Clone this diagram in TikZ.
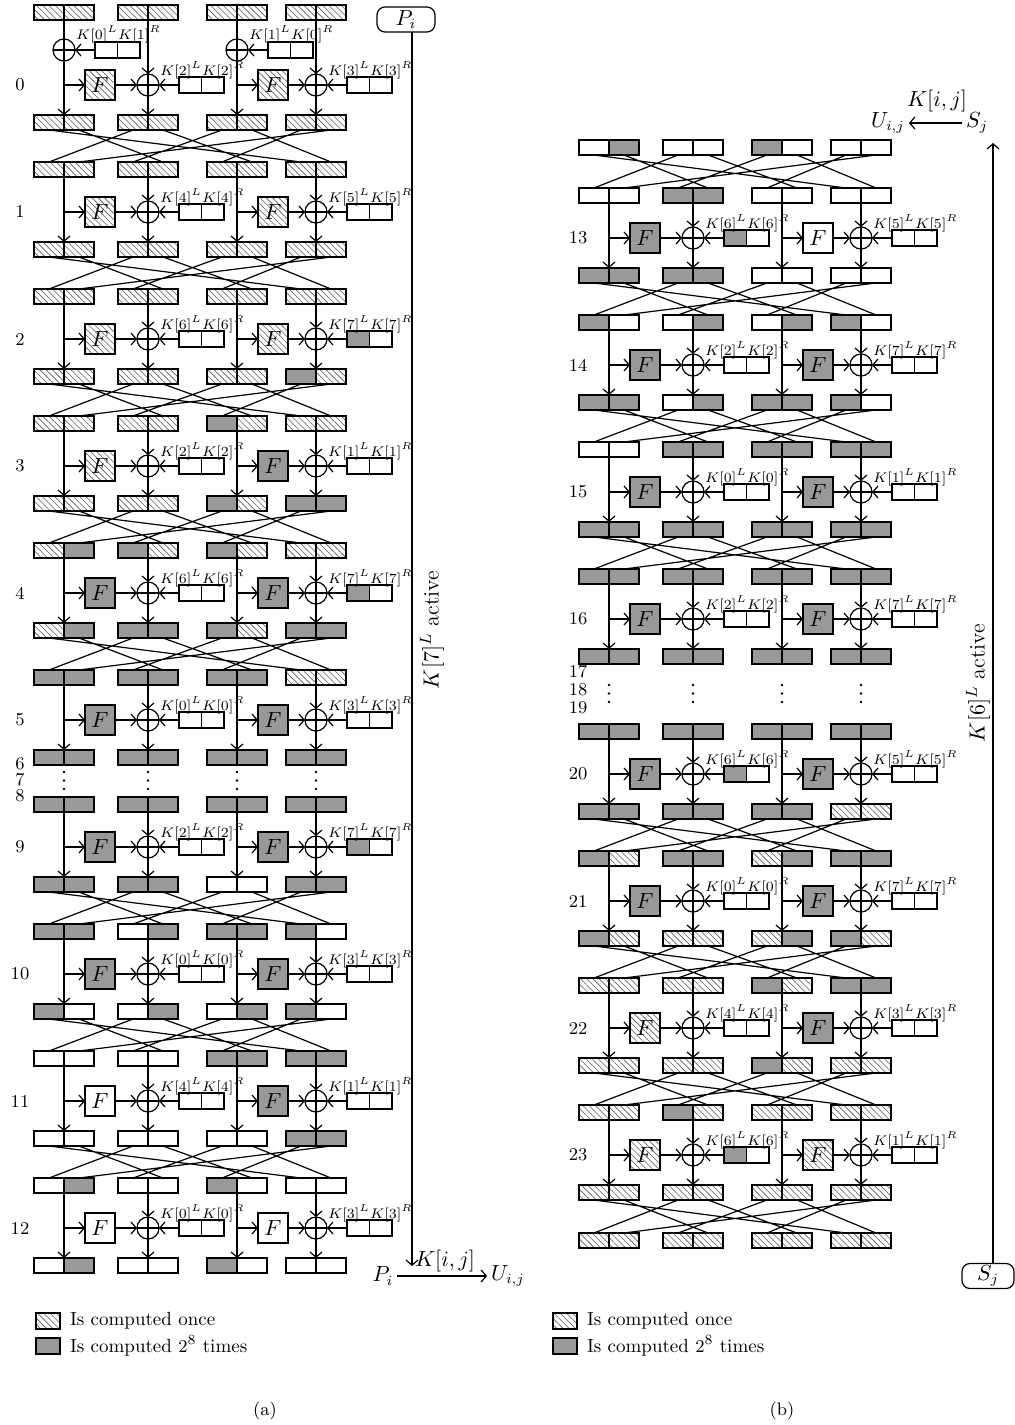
\documentclass[tikz,border=0pt]{standalone}
\usetikzlibrary{arrows.meta,patterns.meta}
\newcommand\brow[4]{%
  \foreach \s [count=\i from 0] in {#4} {%
    \pgfmathtruncatemacro\bk{div(\i,2)}%
    \pgfmathsetmacro\cx{{64,148,237,316}[\bk]+#2+30*mod(\i,2)-15}%
    \node[cellb,\s] (#1\i) at (\cx,#3+7.5) {};
  }}
\newcommand\xperm[2]{%
  \draw[wire] (#12.south)--(#20.north) (#17.south)--(#21.north)
    (#14.south)--(#22.north) (#11.south)--(#23.north)
    (#16.south)--(#24.north) (#13.south)--(#25.north)
    (#10.south)--(#26.north) (#15.south)--(#27.north);}
\newcommand\fpair[9]{%
  \node[fbox,#5] (#1F) at (#2+36,#4) {$F$};
  \node[xorc] (#1X) at (#3,#4) {};
  \node[kcell,#6,anchor=west] (#1KL) at (#3+31,#4) {};
  \node[kcell,#7,anchor=west] (#1KR) at (#1KL.east) {};
  \node[klab,anchor=base west] (#1T) at (#3+12,#4-10) {$#8$};
  \coordinate (#1a) at (#2,#9);
  \coordinate (#1b) at (#2,#4);
  \coordinate (#1c) at (#2,#4+30);
  \coordinate (#1d) at (#3,#9);
  \coordinate (#1e) at (#3,#4+30);
  \draw[arr] (#1a) -- (#1c);
  \draw[arr] (#1b) -- (#1F);
  \draw[arr] (#1F) -- (#1X);
  \draw[arr] (#1d) -- (#1X);
  \draw[arr] (#1X) -- (#1e);
  \draw[arr] (#1KL) -- (#1X);}
\newcommand\vdts[2]{%
  \foreach \c in {64,148,237,316} {%
    \foreach \d in {0,8.5,17} {%
      \fill (\c+#1,#2+\d) circle[radius=0.7pt];}}}
\begin{document}
\begin{tikzpicture}[x=0.5pt,y=-0.5pt,
  every node/.style={inner sep=0pt,outer sep=0pt},
  wire/.style={line width=0.6pt},
  arr/.style={line width=0.6pt,-{Straight Barb[length=2.6pt,width=6pt,line width=0.6pt]}},
  cellb/.style={draw,line width=0.6pt,minimum width=15pt,minimum height=7.5pt},
  hat/.style={pattern={Lines[angle=-45,distance=2.2pt,line width=0.3pt]},pattern color=black!65},
  gry/.style={fill=black!40},
  wht/.style={fill=white},
  fbox/.style={draw,line width=0.6pt,minimum size=15pt,font=\fontsize{11}{11}\selectfont},
  xorc/.style={draw,circle,line width=0.6pt,minimum size=11pt,
    path picture={\draw[line width=0.6pt] (path picture bounding box.north) -- (path picture bounding box.south)
      (path picture bounding box.west) -- (path picture bounding box.east);}},
  kcell/.style={draw,line width=0.6pt,minimum width=11.25pt,minimum height=8pt},
  klab/.style={font=\fontsize{6.6}{7}\selectfont},
  rlab/.style={font=\fontsize{9}{10}\selectfont},
  big/.style={font=\fontsize{10.5}{11}\selectfont},
  leg/.style={draw,line width=0.6pt,minimum width=12pt,minimum height=8pt},
  legt/.style={anchor=west,font=\fontsize{9.5}{10}\selectfont},
]
\useasboundingbox (0,0) rectangle (1015,1425);
% ================= panel (a) =================
% round 0
\brow{A0i}{0}{5}{hat,hat,hat,hat,hat,hat,hat,hat}
\node[xorc] (W1X) at (64,50) {};
\node[kcell,wht,anchor=west] (W1KL) at (95,50) {};
\node[kcell,wht,anchor=west] (W1KR) at (W1KL.east) {};
\node[klab,anchor=base west] (W1T) at (76,39) {$K[0]^L K[1]^R$};
\draw[arr] (W1KL) -- (W1X);
\node[xorc] (W2X) at (237,50) {};
\node[kcell,wht,anchor=west] (W2KL) at (268,50) {};
\node[kcell,wht,anchor=west] (W2KR) at (W2KL.east) {};
\node[klab,anchor=base west] (W2T) at (249,39) {$K[1]^L K[0]^R$};
\draw[arr] (W2KL) -- (W2X);
\fpair{A0l}{64}{148}{85}{hat}{wht}{wht}{K[2]^L K[2]^R}{20}
\fpair{A0r}{237}{316}{85}{hat}{wht}{wht}{K[3]^L K[3]^R}{20}
\brow{A0o}{0}{115}{hat,hat,hat,hat,hat,hat,hat,hat}
% round 1
\brow{A1i}{0}{162}{hat,hat,hat,hat,hat,hat,hat,hat}
\xperm{A0o}{A1i}
\fpair{A1l}{64}{148}{212}{hat}{wht}{wht}{K[4]^L K[4]^R}{177}
\fpair{A1r}{237}{316}{212}{hat}{wht}{wht}{K[5]^L K[5]^R}{177}
\brow{A1o}{0}{242}{hat,hat,hat,hat,hat,hat,hat,hat}
% round 2
\brow{A2i}{0}{289}{hat,hat,hat,hat,hat,hat,hat,hat}
\xperm{A1o}{A2i}
\fpair{A2l}{64}{148}{339}{hat}{wht}{wht}{K[6]^L K[6]^R}{304}
\fpair{A2r}{237}{316}{339}{hat}{gry}{wht}{K[7]^L K[7]^R}{304}
\brow{A2o}{0}{369}{hat,hat,hat,hat,hat,hat,gry,hat}
% round 3
\brow{A3i}{0}{416}{hat,hat,hat,hat,gry,hat,hat,hat}
\xperm{A2o}{A3i}
\fpair{A3l}{64}{148}{466}{hat}{wht}{wht}{K[2]^L K[2]^R}{431}
\fpair{A3r}{237}{316}{466}{gry}{wht}{wht}{K[1]^L K[1]^R}{431}
\brow{A3o}{0}{496}{hat,hat,hat,hat,gry,hat,gry,gry}
% round 4
\brow{A4i}{0}{543}{hat,gry,gry,hat,gry,hat,hat,hat}
\xperm{A3o}{A4i}
\fpair{A4l}{64}{148}{593}{gry}{wht}{wht}{K[6]^L K[6]^R}{558}
\fpair{A4r}{237}{316}{593}{gry}{gry}{wht}{K[7]^L K[7]^R}{558}
\brow{A4o}{0}{623}{hat,gry,gry,gry,gry,hat,gry,gry}
% round 5
\brow{A5i}{0}{670}{gry,gry,gry,gry,gry,gry,hat,hat}
\xperm{A4o}{A5i}
\fpair{A5l}{64}{148}{720}{gry}{wht}{wht}{K[0]^L K[0]^R}{685}
\fpair{A5r}{237}{316}{720}{gry}{wht}{wht}{K[3]^L K[3]^R}{685}
\brow{A5o}{0}{750}{gry,gry,gry,gry,gry,gry,gry,gry}
\vdts{0}{772}
% round 9
\brow{A9i}{0}{797}{gry,gry,gry,gry,gry,gry,gry,gry}
\fpair{A9l}{64}{148}{847}{gry}{wht}{wht}{K[2]^L K[2]^R}{812}
\fpair{A9r}{237}{316}{847}{gry}{gry}{wht}{K[7]^L K[7]^R}{812}
\brow{A9o}{0}{877}{gry,gry,gry,gry,wht,wht,gry,gry}
% round 10
\brow{A10i}{0}{924}{gry,gry,wht,gry,gry,gry,gry,wht}
\xperm{A9o}{A10i}
\fpair{A10l}{64}{148}{974}{gry}{wht}{wht}{K[0]^L K[0]^R}{939}
\fpair{A10r}{237}{316}{974}{gry}{wht}{wht}{K[3]^L K[3]^R}{939}
\brow{A10o}{0}{1004}{gry,wht,wht,gry,wht,gry,gry,wht}
% round 11
\brow{A11i}{0}{1051}{wht,wht,wht,wht,gry,gry,gry,gry}
\xperm{A10o}{A11i}
\fpair{A11l}{64}{148}{1101}{wht}{wht}{wht}{K[4]^L K[4]^R}{1066}
\fpair{A11r}{237}{316}{1101}{gry}{wht}{wht}{K[1]^L K[1]^R}{1066}
\brow{A11o}{0}{1131}{wht,wht,wht,wht,wht,wht,gry,gry}
% round 12
\brow{A12i}{0}{1178}{wht,gry,wht,wht,gry,wht,wht,wht}
\xperm{A11o}{A12i}
\fpair{A12l}{64}{148}{1228}{wht}{wht}{wht}{K[0]^L K[0]^R}{1193}
\fpair{A12r}{237}{316}{1228}{wht}{wht}{wht}{K[3]^L K[3]^R}{1193}
\brow{A12o}{0}{1258}{wht,gry,wht,wht,gry,wht,wht,wht}
% round labels (a)
\foreach \r/\yy in {0/85,1/212,2/339,3/466,4/593,5/720,6/764,7/780,8/796,9/847,10/974,11/1101,12/1228}
  \node[rlab] (la\r) at (20,\yy) {\r};
% right side (a)
\node[draw,line width=0.6pt,rounded corners=4pt,minimum width=29pt,minimum height=12.5pt,big] (Pi) at (406,19.5) {$P_i$};
\coordinate (aEnd) at (412,1266);
\draw[arr] (Pi.south -| aEnd) -- (aEnd);
\node[rotate=90,font=\fontsize{11}{11}\selectfont] (actA) at (432,630) {$K[7]^L$ active};
\node[big,inner sep=2pt] (Pb) at (383,1276) {$P_i$};
\node[big,inner sep=2pt] (Ub) at (508,1276) {$U_{i,j}$};
\draw[arr] (Pb.east) -- (Ub.west);
\node[big] (Kb) at (445,1261) {$K[i, j]$};
% legend (a)
\node[leg,hat] (LA1) at (48,1321) {};
\node[legt] (LA1t) at (LA1.east) [xshift=5pt] {Is computed once};
\node[leg,gry] (LA2) at (48,1346) {};
\node[legt] (LA2t) at (LA2.east) [xshift=5pt] {Is computed $2^8$ times};
\node[rlab] (capA) at (265,1411) {(a)};
% ================= panel (b) =================
\brow{Bt}{545}{140}{wht,gry,wht,wht,gry,wht,wht,wht}
% round 13
\brow{B13i}{545}{188}{wht,wht,gry,gry,wht,wht,wht,wht}
\xperm{Bt}{B13i}
\fpair{B13l}{609}{693}{238}{gry}{gry}{wht}{K[6]^L K[6]^R}{203}
\fpair{B13r}{782}{861}{238}{wht}{wht}{wht}{K[5]^L K[5]^R}{203}
\brow{B13o}{545}{268}{gry,gry,gry,gry,wht,wht,wht,wht}
% round 14
\brow{B14i}{545}{315}{gry,wht,wht,gry,wht,gry,gry,wht}
\xperm{B13o}{B14i}
\fpair{B14l}{609}{693}{365}{gry}{wht}{wht}{K[2]^L K[2]^R}{330}
\fpair{B14r}{782}{861}{365}{gry}{wht}{wht}{K[7]^L K[7]^R}{330}
\brow{B14o}{545}{395}{gry,gry,wht,gry,gry,gry,gry,wht}
% round 15
\brow{B15i}{545}{442}{wht,wht,gry,gry,gry,gry,gry,gry}
\xperm{B14o}{B15i}
\fpair{B15l}{609}{693}{492}{gry}{wht}{wht}{K[0]^L K[0]^R}{457}
\fpair{B15r}{782}{861}{492}{gry}{wht}{wht}{K[1]^L K[1]^R}{457}
\brow{B15o}{545}{522}{gry,gry,gry,gry,gry,gry,gry,gry}
% round 16
\brow{B16i}{545}{569}{gry,gry,gry,gry,gry,gry,gry,gry}
\xperm{B15o}{B16i}
\fpair{B16l}{609}{693}{619}{gry}{wht}{wht}{K[2]^L K[2]^R}{584}
\fpair{B16r}{782}{861}{619}{gry}{wht}{wht}{K[7]^L K[7]^R}{584}
\brow{B16o}{545}{649}{gry,gry,gry,gry,gry,gry,gry,gry}
\vdts{545}{685}
% round 20
\brow{B20i}{545}{724}{gry,gry,gry,gry,gry,gry,gry,gry}
\fpair{B20l}{609}{693}{774}{gry}{gry}{wht}{K[6]^L K[6]^R}{739}
\fpair{B20r}{782}{861}{774}{gry}{wht}{wht}{K[5]^L K[5]^R}{739}
\brow{B20o}{545}{804}{gry,gry,gry,gry,gry,gry,hat,hat}
% round 21
\brow{B21i}{545}{851}{gry,hat,gry,gry,hat,gry,gry,gry}
\xperm{B20o}{B21i}
\fpair{B21l}{609}{693}{901}{gry}{wht}{wht}{K[0]^L K[0]^R}{866}
\fpair{B21r}{782}{861}{901}{gry}{wht}{wht}{K[7]^L K[7]^R}{866}
\brow{B21o}{545}{931}{gry,hat,hat,hat,hat,gry,gry,hat}
% round 22
\brow{B22i}{545}{978}{hat,hat,hat,hat,gry,hat,gry,gry}
\xperm{B21o}{B22i}
\fpair{B22l}{609}{693}{1028}{hat}{wht}{wht}{K[4]^L K[4]^R}{993}
\fpair{B22r}{782}{861}{1028}{gry}{wht}{wht}{K[3]^L K[3]^R}{993}
\brow{B22o}{545}{1058}{hat,hat,hat,hat,gry,hat,hat,hat}
% round 23
\brow{B23i}{545}{1105}{hat,hat,gry,hat,hat,hat,hat,hat}
\xperm{B22o}{B23i}
\fpair{B23l}{609}{693}{1155}{hat}{gry}{wht}{K[6]^L K[6]^R}{1120}
\fpair{B23r}{782}{861}{1155}{hat}{wht}{wht}{K[1]^L K[1]^R}{1120}
\brow{B23o}{545}{1185}{hat,hat,hat,hat,hat,hat,hat,hat}
\brow{Bf}{545}{1233}{hat,hat,hat,hat,hat,hat,hat,hat}
\xperm{B23o}{Bf}
% round labels (b)
\foreach \r/\yy in {13/238,14/365,15/492,16/619,17/672,18/690,19/708,20/774,21/901,22/1028,23/1155}
  \node[rlab] (lb\r) at (578,\yy) {\r};
% right side (b)
\node[big,inner sep=2pt] (Ut) at (888,123) {$U_{i,j}$};
\node[big,inner sep=2pt] (St) at (977,123) {$S_j$};
\draw[arr] (St.west) -- (Ut.east);
\node[big] (Kt) at (937,101) {$K[i, j]$};
\node[draw,line width=0.6pt,rounded corners=4pt,minimum width=26pt,minimum height=12.5pt,big] (Sb) at (988,1276) {$S_j$};
\coordinate (bEnd) at (993,143);
\draw[arr] (Sb.north -| bEnd) -- (bEnd);
\node[rotate=90,font=\fontsize{11}{11}\selectfont] (actB) at (978,683) {$K[6]^L$ active};
% legend (b)
\node[leg,hat] (LB1) at (565,1321) {};
\node[legt] (LB1t) at (LB1.east) [xshift=5pt] {Is computed once};
\node[leg,gry] (LB2) at (565,1346) {};
\node[legt] (LB2t) at (LB2.east) [xshift=5pt] {Is computed $2^8$ times};
\node[rlab] (capB) at (782,1411) {(b)};
\end{tikzpicture}
\end{document}
